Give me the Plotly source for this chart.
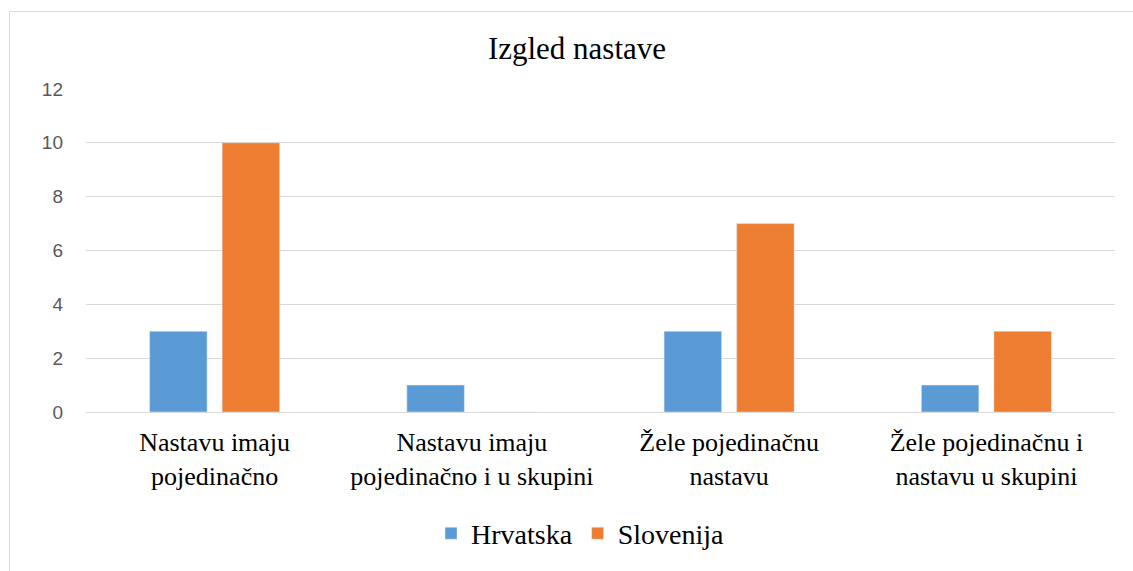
import plotly.graph_objects as go

categories = ["Nastavu imaju<br>pojedinačno", "Nastavu imaju<br>pojedinačno i u skupini",
              "Žele pojedinačnu<br>nastavu", "Žele pojedinačnu i<br>nastavu u skupini"]
hrvatska = [3, 1, 3, 1]
slovenija = [10, 0, 7, 3]
y_ticks = [0, 2, 4, 6, 8, 10, 12]

W, H = 1133, 571
L, R, T, B = 86, 18, 89, 155
pw, ph = W - L - R, H - T - B

fig = go.Figure()
fig.add_trace(go.Bar(x=categories, y=hrvatska, name="Hrvatska", marker_color="#5B9BD5"))
fig.add_trace(go.Bar(x=categories, y=slovenija, name="Slovenija", marker_color="#ED7D31"))

def px_x(p):
    return (p - L) / pw

def px_y(p):
    return (H - B - p) / ph

fig.update_layout(
    width=W, height=H,
    margin=dict(l=L, r=R, t=T, b=B),
    paper_bgcolor="white", plot_bgcolor="white",
    barmode="group", bargap=0.436, bargroupgap=0.207,
    title=dict(text="Izgled nastave", xref="container", x=577 / W, xanchor="center",
               yref="container", y=1 - 48 / H, yanchor="middle",
               font=dict(family="Liberation Serif", size=31, color="#000000")),
    xaxis=dict(showgrid=False, showline=False, ticks="", tickfont=dict(family="Liberation Serif", size=26, color="#000000"),
               ticklabelstandoff=12),
    yaxis=dict(range=[0, 12], tickvals=y_ticks, showgrid=True, gridcolor="#d9d9d9", gridwidth=1,
               zeroline=True, zerolinecolor="#d9d9d9", zerolinewidth=1, showline=False,
               tickfont=dict(family="Liberation Sans", size=19, color="#595959"), ticklabelstandoff=22),
    legend=dict(orientation="h", x=px_x(580), xanchor="center", y=px_y(539), yanchor="middle",
                font=dict(family="Liberation Serif", size=28, color="#000000"), itemwidth=30),
    showlegend=True,
)
fig.add_shape(type="rect", xref="paper", yref="paper", x0=px_x(9.5), x1=px_x(1140), y0=px_y(590), y1=px_y(10.5),
              line=dict(color="#d9d9d9", width=1), fillcolor="rgba(0,0,0,0)", layer="below")
fig.write_html("out.html", config={"displayModeBar": False}, post_script="document.body.style.margin='0';")
